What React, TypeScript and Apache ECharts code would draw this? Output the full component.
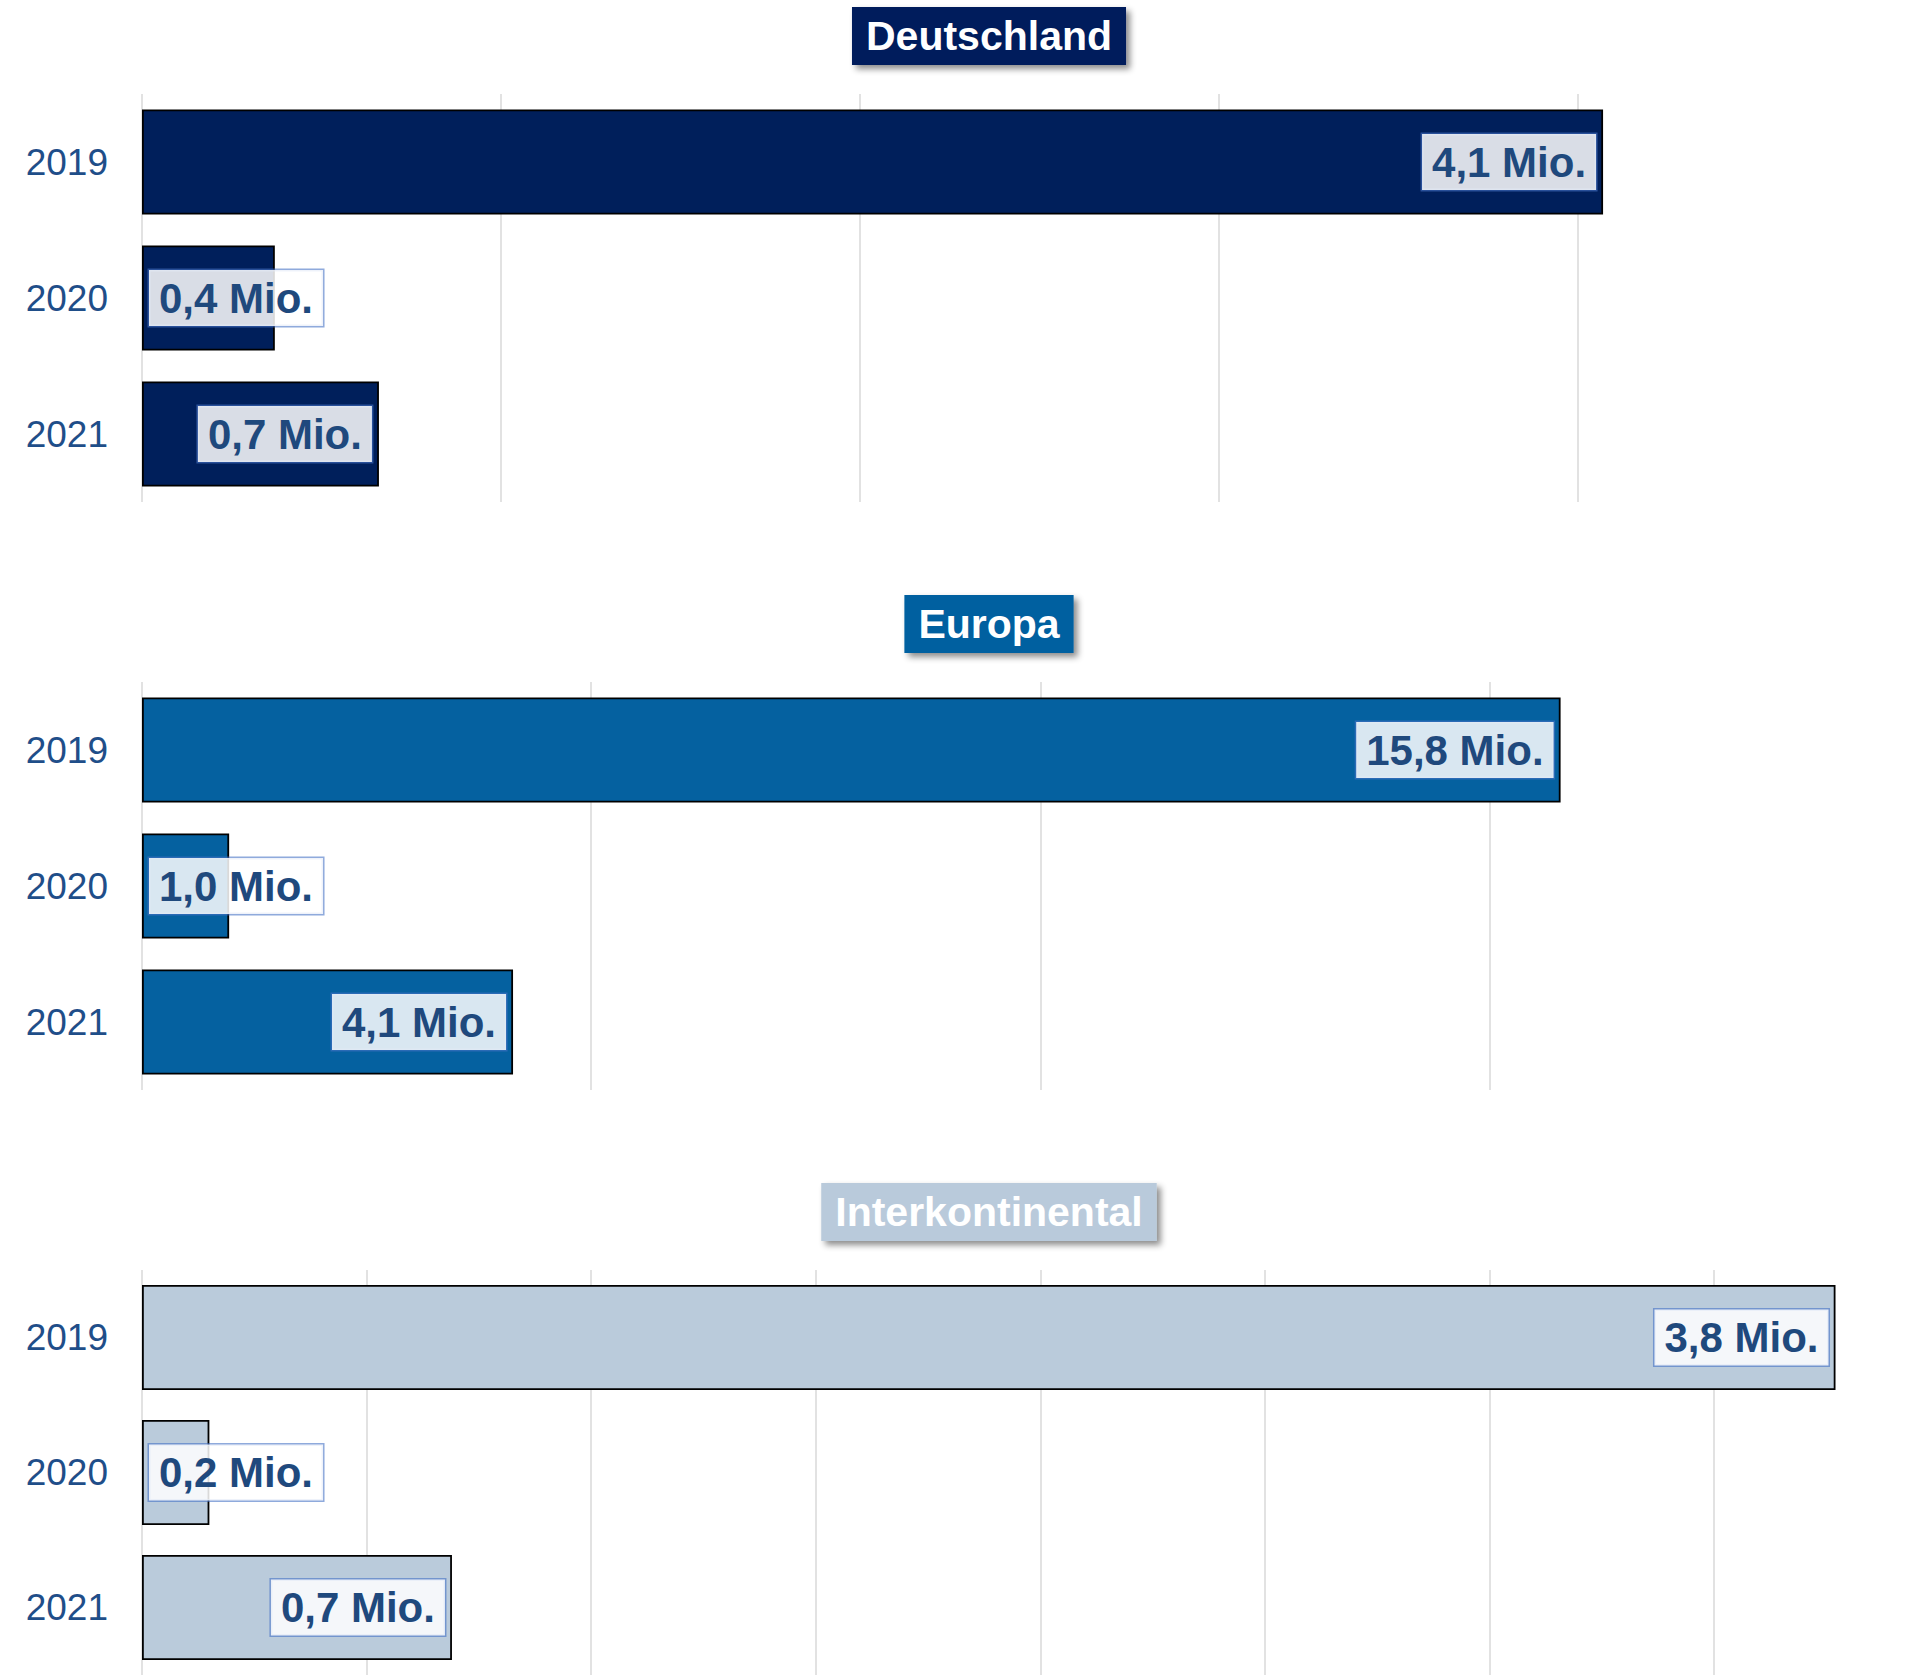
import React, { useEffect, useRef } from 'react';
import * as echarts from 'echarts';

// ---- data ----
const years = ['2019', '2020', '2021'];
const panelTitles = ['Deutschland', 'Europa', 'Interkontinental'];
const deutschlandValues = [4.07, 0.37, 0.66];
const europaValues = [15.79, 0.97, 4.13];
const interkontinentalValues = [3.77, 0.15, 0.69];
const axisMax = [4.73, 18.9, 3.78];
const axisInterval = [1, 5, 0.5];

// ---- style ----
const panelValues = [deutschlandValues, europaValues, interkontinentalValues];
const barColors = ['#001F5B', '#0561A0', '#BACBDB'];
const titleColors = ['#001F5B', '#0561A0', '#B9CADB'];
const FONT = "'Liberation Sans', Arial, sans-serif";
const GRID_LEFT = 142;
const GRID_WIDTH = 1698;
const GRID_TOPS = [94, 682, 1270];
const GRID_HEIGHT = 408;
const TITLE_CENTERS_Y = [36, 624, 1212];
const TITLE_CENTER_X = 989;

const fmt = (v: number) =>
  (Math.round(v * 10 + 1e-9) / 10).toFixed(1).replace('.', ',') + ' Mio.';

export default function App() {
  const ref = useRef<HTMLDivElement>(null);
  useEffect(() => {
    if (!ref.current) return;
    const chart = echarts.init(ref.current, undefined, { renderer: 'svg' });
    const grids = GRID_TOPS.map((top) => ({
      left: GRID_LEFT,
      top,
      width: GRID_WIDTH,
      height: GRID_HEIGHT,
      containLabel: false,
    }));
    const xAxes = panelValues.map((_, i) => ({
      type: 'value',
      gridIndex: i,
      min: 0,
      max: axisMax[i],
      interval: axisInterval[i],
      axisLabel: { show: false },
      axisLine: { show: false },
      axisTick: { show: false },
      splitLine: {
        show: true,
        showMaxLine: false,
        lineStyle: { color: '#D9D9D9', width: 1.5 },
      },
    }));
    const yAxes = panelValues.map((_, i) => ({
      type: 'category',
      gridIndex: i,
      data: years,
      inverse: true,
      axisLine: { show: false },
      axisTick: { show: false },
      axisLabel: {
        color: '#1F4E89',
        fontSize: 37,
        fontFamily: FONT,
        margin: 34,
      },
    }));
    const series = panelValues.map((vals, i) => {
      const pxPerUnit = GRID_WIDTH / axisMax[i];
      return {
        type: 'bar',
        xAxisIndex: i,
        yAxisIndex: i,
        barWidth: 105,
        itemStyle: { color: barColors[i], borderColor: '#000', borderWidth: 1.8 },
        data: vals.map((v) => ({
          value: v,
          label: { position: v * pxPerUnit > 195 ? 'insideRight' : 'insideLeft' },
        })),
        label: {
          show: true,
          formatter: (p: any) => fmt(p.value),
          distance: 7,
          color: '#1F497D',
          fontSize: 42,
          fontWeight: 'bold',
          fontFamily: FONT,
          lineHeight: 44,
          backgroundColor: 'rgba(255,255,255,0.85)',
          borderColor: 'rgba(68,114,196,0.6)',
          borderWidth: 1.5,
          padding: [6, 10, 6, 10],
        },
      };
    });
    const graphic = panelTitles.map((t, i) => ({
      type: 'text',
      x: TITLE_CENTER_X,
      y: TITLE_CENTERS_Y[i],
      z: 100,
      style: {
        text: t,
        align: 'center',
        verticalAlign: 'middle',
        fill: '#FFFFFF',
        fontSize: 41,
        fontWeight: 'bold',
        fontFamily: FONT,
        lineHeight: 44,
        backgroundColor: titleColors[i],
        padding: [7, 14, 7, 14],
        shadowBlur: 6,
        shadowColor: 'rgba(0,0,0,0.45)',
        shadowOffsetX: 4,
        shadowOffsetY: 4,
      },
    }));
    chart.setOption({
      animation: false,
      backgroundColor: '#FFFFFF',
      grid: grids,
      xAxis: xAxes,
      yAxis: yAxes,
      series,
      graphic,
    } as any);
    return () => chart.dispose();
  }, []);
  return (
    <div
      ref={ref}
      style={{ position: 'absolute', left: 0, top: 0, width: 1916, height: 1675 }}
    />
  );
}
